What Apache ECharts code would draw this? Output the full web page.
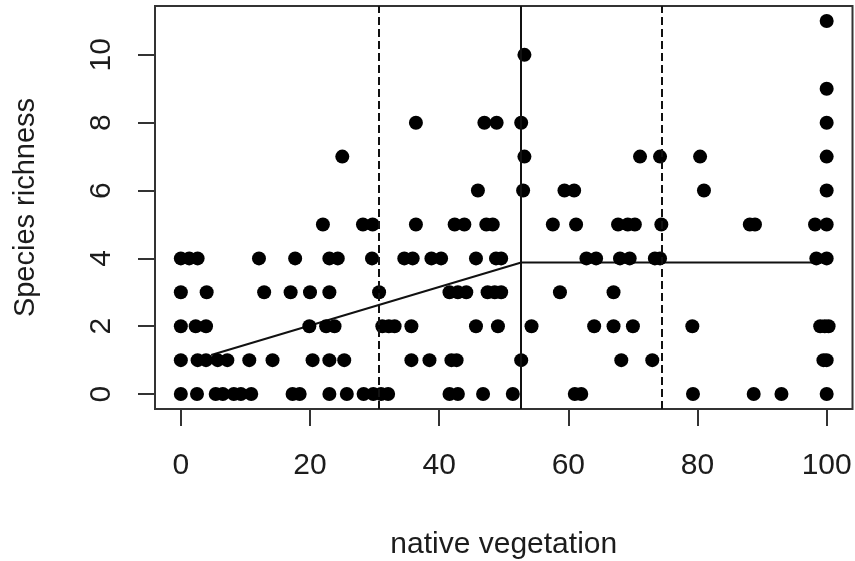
<!DOCTYPE html>
<html>
<head>
<meta charset="utf-8">
<script src="https://cdn.jsdelivr.net/npm/echarts@6/dist/echarts.min.js"></script>
<style>
  html, body { margin: 0; padding: 0; background: #ffffff; }
  #chart { width: 855px; height: 561px; }
</style>
</head>
<body>
<div id="chart"></div>
<script>
// Native vegetation (%) values of sites, grouped by species richness
const richness0  = [0, 2.5, 5.4, 6.5, 8.2, 9.3, 10.9, 17.3, 18.4, 23, 25.7, 28.3, 29.8, 31, 32.1, 41.6, 42.9, 46.8, 51.4, 61, 62, 79.3, 88.7, 93, 100];
const richness1  = [0, 2.6, 3.9, 5.7, 7.2, 10.6, 14.2, 20.4, 23, 25.3, 35.7, 38.5, 41.9, 42.7, 52.7, 68.2, 73, 99.5, 100];
const richness2  = [0, 2.3, 3.9, 19.9, 22.5, 23.8, 31.2, 32.2, 33.1, 35.7, 45.7, 49.1, 54.3, 64, 67, 70, 79.2, 99, 99.7, 100.3];
const richness3  = [0, 4, 12.9, 17, 20, 23, 30.7, 41.6, 42.9, 44.2, 47.5, 48.6, 49.6, 58.7, 67];
const richness4  = [0, 1.3, 2.6, 12.1, 17.7, 23, 24.3, 29.6, 34.6, 35.9, 38.8, 40.3, 45.7, 48.8, 49.6, 62.8, 64.3, 68, 69.5, 73.4, 74.2, 98.4, 100];
const richness5  = [22, 28.2, 29.7, 36.4, 42.4, 43.9, 47.3, 48.3, 57.6, 61.2, 67.7, 69.2, 70.3, 74.4, 88.1, 88.9, 98.2, 100];
const richness6  = [46, 53, 59.4, 60.9, 81, 100];
const richness7  = [25, 53.2, 71.1, 74.2, 80.4, 100];
const richness8  = [36.4, 47, 48.9, 52.7, 100];
const richness9  = [100];
const richness10 = [53.2];
const richness11 = [100];

// Piecewise regression fit (x, y)
const fitX = [4.7, 52.7, 100];
const fitY = [1.15, 3.88, 3.88];

// Breakpoint and its confidence limits
const breakpoint = 52.7;
const ciLimits = [30.7, 74.4];

// Tick values
const xTicks = [0, 20, 40, 60, 80, 100];
const yTicks = [0, 2, 4, 6, 8, 10];

const groups = [richness0, richness1, richness2, richness3, richness4, richness5,
                richness6, richness7, richness8, richness9, richness10, richness11];
const points = [];
groups.forEach((xs, r) => xs.forEach(x => points.push([x, r])));
const fitData = fitX.map((x, i) => [x, fitY[i]]);

const FONT = 'Liberation Sans, Arial, sans-serif';
const TXT = '#1c1c1c';

const chart = echarts.init(document.getElementById('chart'), null, { renderer: 'canvas' });
chart.setOption({
  animation: false,
  backgroundColor: '#ffffff',
  grid: {
    left: 155, right: 2.5, top: 6, bottom: 152,
    outerBoundsMode: 'none', containLabel: false,
    show: true, borderColor: '#333333', borderWidth: 2, backgroundColor: 'transparent'
  },
  xAxis: {
    type: 'value', min: -4, max: 104,
    name: 'native vegetation', nameLocation: 'middle', nameGap: 121,
    nameTextStyle: { fontFamily: FONT, fontSize: 30, color: TXT },
    axisLine: { show: false, onZero: false },
    splitLine: { show: false },
    axisTick: { show: true, inside: false, length: 17, customValues: xTicks,
                lineStyle: { color: '#333333', width: 2 } },
    axisLabel: { customValues: xTicks, margin: 42, fontFamily: FONT, fontSize: 30, color: TXT }
  },
  yAxis: {
    type: 'value', min: -0.44, max: 11.44,
    name: 'Species richness', nameLocation: 'middle', nameGap: 115, nameRotate: 90,
    nameTextStyle: { fontFamily: FONT, fontSize: 29, color: TXT },
    axisLine: { show: false, onZero: false },
    splitLine: { show: false },
    axisTick: { show: true, inside: false, length: 17, customValues: yTicks,
                lineStyle: { color: '#333333', width: 2 } },
    axisLabel: { customValues: yTicks, rotate: 90, margin: 38, fontFamily: FONT, fontSize: 30, color: TXT }
  },
  series: [
    {
      type: 'scatter', data: points, symbol: 'circle', symbolSize: 14,
      itemStyle: { color: '#000000', opacity: 1 }, z: 3,
      markLine: {
        silent: true, symbol: ['none', 'none'], label: { show: false },
        data: [
          { xAxis: ciLimits[0], lineStyle: { type: [8, 4], color: '#111111', width: 2 } },
          { xAxis: breakpoint, lineStyle: { type: 'solid', color: '#111111', width: 2 } },
          { xAxis: ciLimits[1], lineStyle: { type: [8, 4], color: '#111111', width: 2 } }
        ]
      }
    },
    {
      type: 'line', data: fitData, symbol: 'none',
      lineStyle: { color: '#111111', width: 2 }, z: 2
    }
  ]
});
</script>
</body>
</html>
